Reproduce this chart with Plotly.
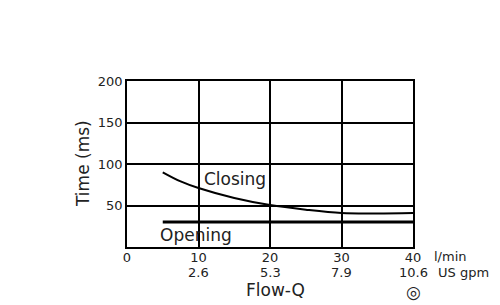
import plotly.graph_objects as go

flow_lpm = [5, 7.5, 10, 15, 20, 25, 30, 35, 40]
closing_ms = [90, 79, 71, 59, 50.5, 45, 41, 40.5, 41]
opening_flow = [5, 40]
opening_ms = [30, 30]

x_ticks = [0, 10, 20, 30, 40]
x_tick_gpm = ["", "2.6", "5.3", "7.9", "10.6"]
y_ticks = [0, 50, 100, 150, 200]

FONT = "DejaVu Sans"
TXT = "#222"

L, R, T, B = 127, 87, 81, 58
W, H = 500, 305
pw, ph = W - L - R, H - T - B


def px(x):
    return (x - L) / pw


def py(y):
    return (H - B - y) / ph


fig = go.Figure()
fig.add_trace(go.Scatter(x=flow_lpm, y=closing_ms, mode="lines",
                         line=dict(color="black", width=2, shape="spline"),
                         showlegend=False, hoverinfo="skip"))
fig.add_trace(go.Scatter(x=opening_flow, y=opening_ms, mode="lines",
                         line=dict(color="black", width=3),
                         showlegend=False, hoverinfo="skip"))

anns = [
    dict(x=10.5, y=82, xref="x", yref="y", text="Closing", showarrow=False,
         xanchor="left", yanchor="middle", font=dict(size=17)),
    dict(x=4.3, y=14, xref="x", yref="y", text="Opening", showarrow=False,
         xanchor="left", yanchor="middle", font=dict(size=17)),
    dict(x=px(275), y=py(290), xref="paper", yref="paper", text="Flow-Q", showarrow=False,
         xanchor="center", yanchor="middle", font=dict(size=17)),
    dict(x=px(83), y=py(164), xref="paper", yref="paper", text="Time (ms)", showarrow=False,
         textangle=-90, xanchor="center", yanchor="middle", font=dict(size=17)),
    dict(x=px(432), y=py(256), xref="paper", yref="paper", text="l/min", showarrow=False,
         xanchor="left", yanchor="middle", font=dict(size=13)),
    dict(x=px(436), y=py(272), xref="paper", yref="paper", text="US gpm", showarrow=False,
         xanchor="left", yanchor="middle", font=dict(size=13)),
    dict(x=px(413), y=py(292), xref="paper", yref="paper", text="◎", showarrow=False,
         xanchor="center", yanchor="middle", font=dict(size=17)),
]
for v, g in zip(x_ticks, x_tick_gpm):
    if g:
        anns.append(dict(x=v, y=py(272), xref="x", yref="paper", text=g, showarrow=False,
                         xanchor="center", yanchor="middle", font=dict(size=13)))

fig.update_layout(
    width=W, height=H,
    margin=dict(l=L, r=R, t=T, b=B),
    plot_bgcolor="white", paper_bgcolor="white",
    font=dict(family=FONT, color=TXT, size=13),
    xaxis=dict(range=[0, 40], tickvals=x_ticks, ticktext=[str(v) for v in x_ticks],
               showgrid=True, gridcolor="black", gridwidth=1.5,
               showline=True, linecolor="black", linewidth=1.5, mirror=True,
               zeroline=False, ticks="", ticklabelstandoff=-2,
               tickfont=dict(size=13, family=FONT)),
    yaxis=dict(range=[0, 200], tickvals=y_ticks[1:],
               showgrid=True, gridcolor="black", gridwidth=1.5,
               showline=True, linecolor="black", linewidth=1.5, mirror=True,
               zeroline=False, ticks="", tickfont=dict(size=13, family=FONT)),
    annotations=anns,
)

fig.write_html("out.html")
